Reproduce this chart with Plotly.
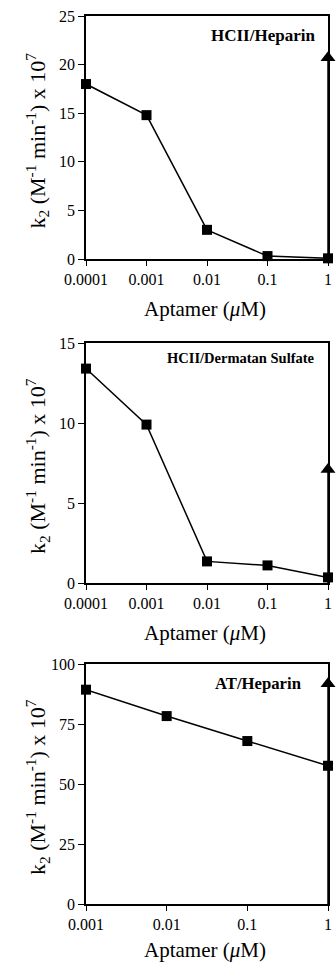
import plotly.graph_objects as go

W, H = 336, 963

# ---------------- data ----------------
x_p1 = [0.0001, 0.001, 0.01, 0.1, 1]
y_p1 = [18.0, 14.8, 3.0, 0.3, 0.07]
tri_p1_x = [1, 1]
tri_p1_y = [0, 20.7]

x_p2 = [0.0001, 0.001, 0.01, 0.1, 1]
y_p2 = [13.4, 9.9, 1.35, 1.1, 0.35]
tri_p2_x = [1, 1]
tri_p2_y = [0, 7.1]

x_p3 = [0.001, 0.01, 0.1, 1]
y_p3 = [89.3, 78.3, 67.9, 57.6]
tri_p3_x = [1, 1]
tri_p3_y = [0, 91.8]

xticks_a = [0.0001, 0.001, 0.01, 0.1, 1]
xticktext_a = ["0.0001", "0.001", "0.01", "0.1", "1"]
xticks_b = [0.001, 0.01, 0.1, 1]
xticktext_b = ["0.001", "0.01", "0.1", "1"]

yticks_1 = [0, 5, 10, 15, 20, 25]
yticks_2 = [0, 5, 10, 15]
yticks_3 = [0, 25, 50, 75, 100]

labels = ["HCII/Heparin", "HCII/Dermatan Sulfate", "AT/Heparin"]

xtitle = "Aptamer (<i>μ</i>M)"
ytitle = "k<sub>2</sub> (M<sup>-1</sup> min<sup>-1</sup>) x 10<sup>7</sup>"

FONT = "Liberation Serif"

# ---------------- layout geometry (pixels) ----------------
left_px, right_px = 86, 328
panels = [
    dict(top=16, bottom=259, xt=309),
    dict(top=343, bottom=583, xt=633),
    dict(top=664, bottom=904, xt=950),
]

fig = go.Figure()

series = [
    (x_p1, y_p1, tri_p1_x, tri_p1_y),
    (x_p2, y_p2, tri_p2_x, tri_p2_y),
    (x_p3, y_p3, tri_p3_x, tri_p3_y),
]

for i, (xs, ys, tx, ty) in enumerate(series):
    xa = "x" if i == 0 else f"x{i+1}"
    ya = "y" if i == 0 else f"y{i+1}"
    fig.add_trace(go.Scatter(
        x=tx, y=ty, mode="lines", xaxis=xa, yaxis=ya,
        line=dict(color="black", width=1.5), cliponaxis=False,
        showlegend=False, hoverinfo="skip"))
    fig.add_trace(go.Scatter(
        x=[tx[-1]], y=[ty[-1]], mode="markers", xaxis=xa, yaxis=ya,
        marker=dict(symbol="triangle-up", size=13, color="black"),
        cliponaxis=False, showlegend=False))
    fig.add_trace(go.Scatter(
        x=xs, y=ys, mode="lines+markers", xaxis=xa, yaxis=ya,
        line=dict(color="black", width=1.5),
        marker=dict(symbol="square", size=10, color="black"),
        cliponaxis=False, showlegend=False))

yranges = [[0, 25], [0, 15], [0, 100]]
yticks = [yticks_1, yticks_2, yticks_3]
xranges = [[-4, 0], [-4, 0], [-3, 0]]
xtv = [xticks_a, xticks_a, xticks_b]
xtt = [xticktext_a, xticktext_a, xticktext_b]
label_pos = [(317, 35, 17), (317, 358, 14.5), (304, 683, 16.7)]

axis_common = dict(
    showline=True, linecolor="black", linewidth=1.6, mirror=True,
    ticks="outside", ticklen=6, tickwidth=1.3, tickcolor="black",
    showgrid=False, zeroline=False, automargin=False,
    tickfont=dict(family=FONT, size=16, color="black"),
)

for i, p in enumerate(panels):
    sx = "" if i == 0 else str(i + 1)
    ydom = [1 - p["bottom"] / H, 1 - p["top"] / H]
    fig.layout[f"xaxis{sx}"] = dict(
        axis_common, type="log", range=xranges[i],
        domain=[left_px / W, right_px / W],
        anchor=f"y{sx}",
        tickvals=xtv[i], ticktext=xtt[i], ticklen=5,
    )
    fig.layout[f"yaxis{sx}"] = dict(
        axis_common, range=yranges[i], domain=ydom,
        anchor=f"x{sx}", tickvals=yticks[i],
    )
    lx, ly, fs = label_pos[i]
    fig.add_annotation(
        x=lx / W, y=1 - ly / H, xref="paper", yref="paper",
        xanchor="right", yanchor="middle", showarrow=False,
        text=f"<b>{labels[i]}</b>",
        font=dict(family=FONT, size=fs, color="black"))
    # x-axis title
    fig.add_annotation(
        x=205 / W, y=1 - p["xt"] / H, xref="paper", yref="paper",
        xanchor="center", yanchor="middle", showarrow=False,
        text=xtitle, font=dict(family=FONT, size=21, color="black"))
    # y-axis title
    fig.add_annotation(
        x=37 / W, y=1 - ((p["top"] + p["bottom"]) / 2 + 3) / H,
        xref="paper", yref="paper", textangle=-90,
        xanchor="center", yanchor="middle", showarrow=False,
        text=ytitle, font=dict(family=FONT, size=22, color="black"))

fig.update_layout(
    width=W, height=H,
    margin=dict(l=0, r=0, t=0, b=0),
    paper_bgcolor="white", plot_bgcolor="white",
    font=dict(family=FONT, color="black"),
)

fig.write_html(
    "out.html",
    config={"displayModeBar": False},
    post_script="document.body.style.margin='0';document.body.style.overflow='hidden';",
)
